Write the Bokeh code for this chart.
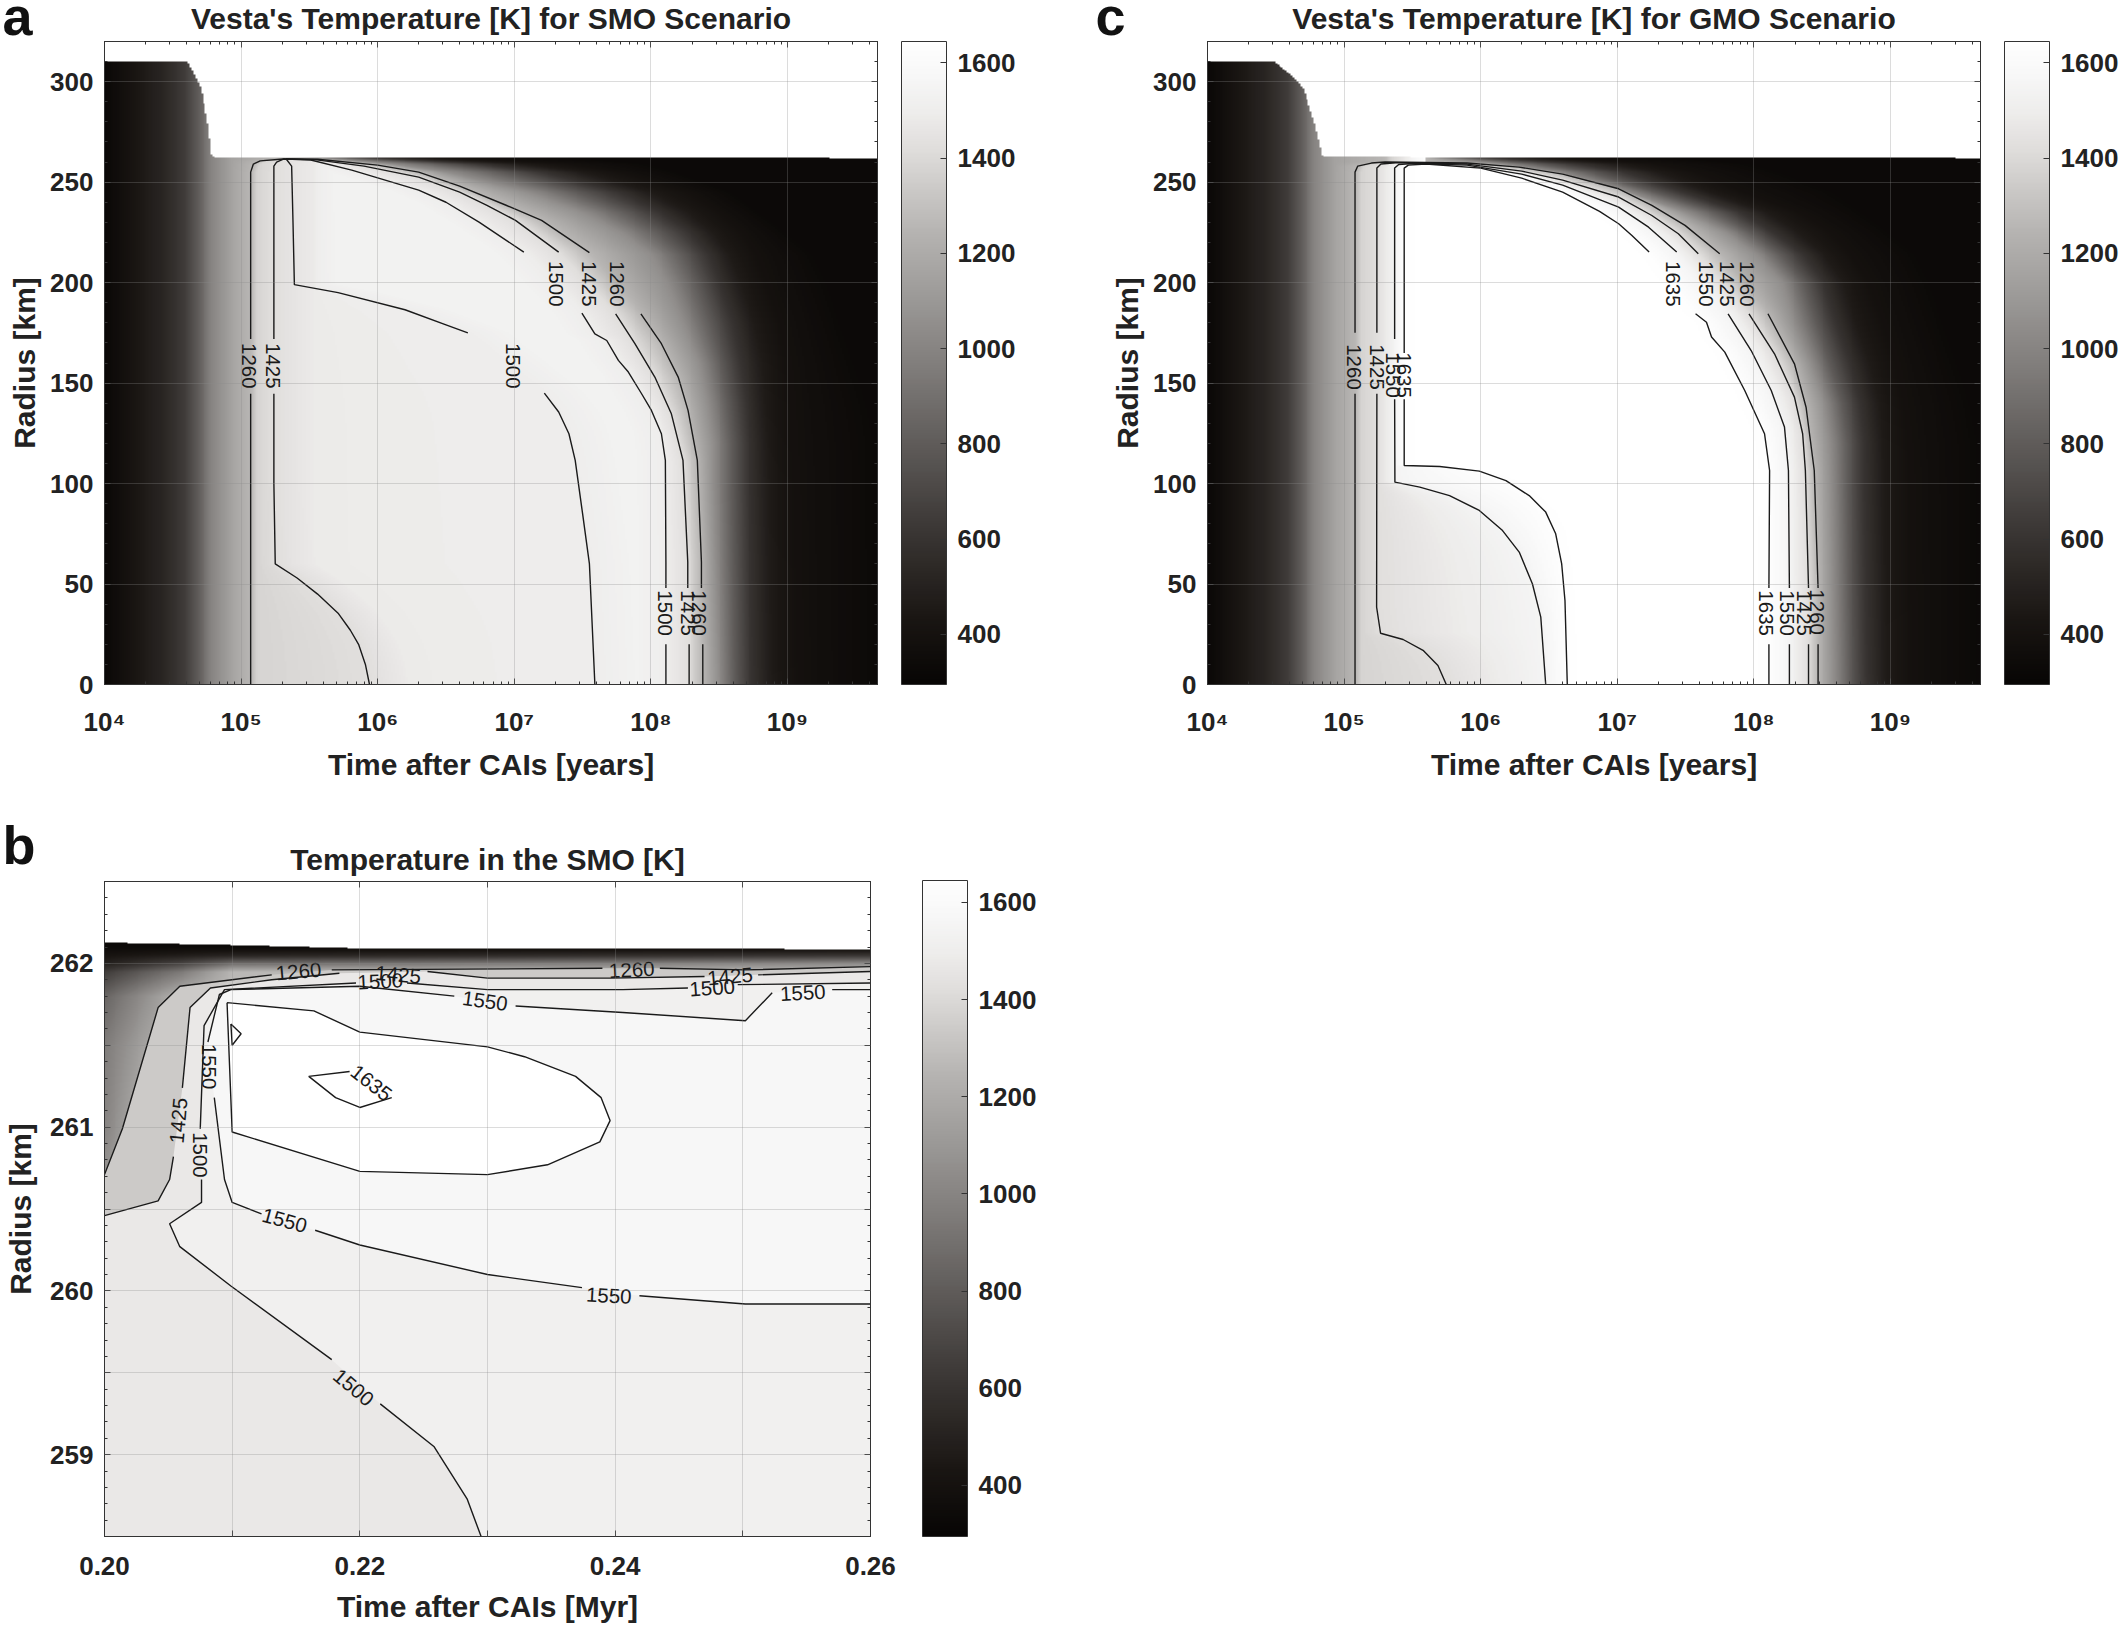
import numpy as np
from bokeh.plotting import figure
from bokeh.layouts import column, row
from bokeh.embed import file_html
from bokeh.resources import INLINE
from bokeh.core.properties import value
from bokeh.models import (LinearColorMapper, ColorBar, FixedTicker, LogAxis, LinearAxis,
                          LogTicker, Range1d, Title)

G = np.nan
FONT = "Liberation Sans"
TITLES = ["Vesta's Temperature [K] for SMO Scenario", "Temperature in the SMO [K]",
          "Vesta's Temperature [K] for GMO Scenario"]
XLABELS = ["Time after CAIs [years]", "Time after CAIs [Myr]"]
YLABEL = "Radius [km]"
LOG_TICK_LABELS = {10**4: "10⁴", 10**5: "10⁵", 10**6: "10⁶", 10**7: "10⁷", 10**8: "10⁸", 10**9: "10⁹"}
T_MIN, T_MAX = 295, 1645
CBAR_TICKS = [400, 600, 800, 1000, 1200, 1400, 1600]
LOGT_MAX = 9.659
R_TICKS = [0, 50, 100, 150, 200, 250, 300]

# Grey colour scale (fraction, r, g, b)
PAL_STOPS = [0.0, 0.1, 0.25, 0.5, 0.71, 0.84, 0.89, 0.95, 1.0]
PAL_R = [8, 26, 62, 130, 184, 226, 238, 248, 255]
PAL_G = [6, 22, 58, 127, 182, 224, 237, 248, 255]
PAL_B = [5, 19, 56, 125, 180, 222, 236, 248, 255]

# Early heating isotherms, the same at every radius (K, log10 years)
HEAT_T = [320, 420, 520, 640, 800, 1000, 1150]
HEAT_LOGT = [4.0, 4.2, 4.42, 4.58, 4.68, 4.78, 4.92]

# Late cooling isotherms: one row per radius
COOL_T = [1050, 795, 600, 460, 390, 330]
COOL_R = [0, 100, 120, 140, 160, 180, 200, 214, 225, 235, 245, 255, 259, 262]
A_COOL = [[8.50, 8.62, 8.74, 8.89, 9.08, 9.66], [8.46, 8.60, 8.72, 8.87, 9.05, 9.66],
          [8.46, 8.60, 8.72, 8.86, 9.03, 9.66], [8.42, 8.57, 8.70, 8.84, 9.02, 9.6],
          [8.36, 8.52, 8.66, 8.82, 9.00, 9.5], [8.24, 8.44, 8.60, 8.76, 8.95, 9.4],
          [8.12, 8.34, 8.50, 8.66, 8.85, 9.3], [8.00, 8.24, 8.42, 8.58, 8.78, 9.2],
          [7.78, 8.06, 8.28, 8.46, 8.68, 9.0], [7.5, 7.82, 8.06, 8.28, 8.52, 8.8],
          [7.1, 7.46, 7.76, 8.0, 8.3, 8.6], [6.5, 6.9, 7.2, 7.5, 7.8, 8.2],
          [6.1, 6.45, 6.75, 7.05, 7.4, 8.0], [5.6, 5.8, 6.0, 6.3, 6.6, 7.5]]
C_COOL = [[8.59, 8.71, 8.83, 8.98, 9.17, 9.66], [8.57, 8.69, 8.81, 8.96, 9.15, 9.66],
          [8.56, 8.69, 8.81, 8.95, 9.13, 9.66], [8.52, 8.65, 8.78, 8.92, 9.10, 9.6],
          [8.42, 8.56, 8.70, 8.85, 9.04, 9.5], [8.30, 8.46, 8.60, 8.75, 8.95, 9.4],
          [8.21, 8.37, 8.51, 8.66, 8.85, 9.3], [8.02, 8.20, 8.36, 8.52, 8.72, 9.2],
          [7.80, 7.98, 8.14, 8.33, 8.58, 9.0], [7.50, 7.72, 7.90, 8.10, 8.35, 8.8],
          [7.08, 7.28, 7.48, 7.68, 7.94, 8.6], [6.55, 6.8, 7.05, 7.3, 7.6, 8.2],
          [6.15, 6.42, 6.7, 7.0, 7.3, 8.0], [5.7, 5.9, 6.1, 6.4, 6.7, 7.5]]

# Outer surface of the body
A_SURF_LOGT = [4, 4.6, 4.65, 4.7, 4.75, 4.78, 4.8, 9.66]
A_SURF_R = [310, 310, 304, 297, 280, 264, 262.3, 262]
C_SURF_LOGT = [4, 4.48, 4.63, 4.70, 4.78, 4.84, 9.66]
C_SURF_R = [310, 310, 302, 296, 279, 262.6, 262]

# Contours of panel a (log10 years, km); G lifts the pen at a label
A_1260_T = [5.07, 5.07, G, 5.07, 5.07, 5.09, 5.14, 5.31, 5.56, 6.0, 6.3, 6.6, 6.94, 7.2, 7.55, G, 7.927, 8.077, 8.2, 8.272, 8.34, 8.37, 8.37, G, 8.38, 8.38]
A_1260_R = [0, 144.7, G, 172, 255, 259, 260.6, 261.5, 261.4, 258.5, 255, 248, 238.5, 231, 214.9, G, 184.5, 169.6, 153, 136.4, 111.5, 61, 48, G, 20, 0]
A_1425_T = [5.94, 5.91, 5.86, 5.80, 5.71, 5.56, 5.41, 5.25, 5.24, 5.24, G, 5.24, 5.24, 5.26, 5.31, 5.54, 5.9, 6.3, 6.6, 6.8, 7.009, 7.325, G, 7.742, 7.883, 8.029, 8.15, 8.235, 8.27, 8.27, G, 8.28, 8.28]
A_1425_R = [0, 10, 20, 27, 35.5, 45, 53, 60, 100, 144.7, G, 172, 258, 260, 261.5, 261.2, 258, 252.5, 245, 238.5, 231, 215.2, G, 184.5, 169.6, 153, 134.7, 111.5, 61, 48, G, 20, 0]
A_1500_T = [7.59, 7.57, 7.55, 7.5, 7.446, 7.4, 7.325, 7.22, G, 6.66, 6.5, 6.2, 5.71, 5.39, 5.38, 5.37, 5.33, 5.51, 5.81, 6.3, 6.5, 6.742, 7.07, G, 7.495, 7.59, 7.677, 7.762, 7.835, 7.932, 8.004, 8.077, 8.106, 8.11, 8.11, G, 8.11, 8.11]
A_1500_R = [0, 30, 60, 85, 111.5, 124.8, 135.6, 145, G, 175, 179, 186.5, 195, 199, 230, 258, 261.5, 261, 256, 246, 240, 230.1, 215.2, G, 184.8, 174.5, 171.2, 161.3, 155.5, 144.7, 136.4, 124.8, 111.5, 61, 48, G, 20, 0]
A_LABEL_TEXT = ["1260", "1425", "1500", "1500", "1425", "1260", "1500", "1425", "1260"]
A_LABEL_T = [5.06, 5.23, 6.99, 7.305, 7.55, 7.75, 8.10, 8.27, 8.355]
A_LABEL_R = [158.6, 158.6, 158.6, 199.4, 199.4, 199.4, 35.5, 35.5, 35.5]

# Contours of panel c
C_1260_T = [5.08, 5.08, G, 5.08, 5.08, 5.10, 5.20, 5.30, 5.9, 6.28, 6.6, 7.01, 7.253, 7.496, 7.75, G, 8.103, 8.297, 8.382, 8.442, 8.47, G, 8.47, 8.47]
C_1260_R = [0, 144.7, G, 175, 255, 258, 259.5, 260, 259.5, 257.5, 254, 246.7, 238.4, 228.5, 214.4, G, 184.5, 159.6, 138, 106.5, 48, G, 20, 0]
C_1425_T = [5.748, 5.687, 5.578, 5.432, 5.267, 5.238, 5.24, G, 5.24, 5.24, 5.27, 5.40, 5.9, 6.3, 6.6, 7.01, 7.253, 7.447, 7.593, G, 7.964, 8.151, 8.297, 8.357, 8.377, 8.40, G, 8.40, 8.40]
C_1425_R = [0, 9.5, 17, 22.4, 25.5, 38.5, 144.7, G, 175, 257, 259, 259.7, 259, 255.5, 251, 242.6, 233.4, 224.3, 214.4, G, 184.5, 164.6, 143, 124.8, 106.5, 48, G, 20, 0]
C_1550_T = [6.476, 6.44, 6.379, 6.282, 6.16, 5.99, 5.772, 5.554, 5.372, 5.37, G, 5.37, 5.37, 5.40, 5.5, 5.9, 6.3, 6.6, 7.01, 7.229, 7.435, G, 7.811, 7.98, 8.127, 8.224, 8.253, 8.26, G, 8.26, 8.26]
C_1550_R = [0, 33.5, 50, 65.9, 76.6, 86.6, 94, 98.2, 100.7, 142, G, 172, 257, 258.8, 259.3, 258.5, 254, 248.5, 237.6, 227.6, 215.2, G, 184.5, 166.2, 146.3, 128.1, 106.5, 48, G, 20, 0]
C_1635_T = [6.634, 6.617, 6.593, 6.549, 6.476, 6.355, 6.185, 5.99, 5.70, 5.44, 5.44, G, 5.44, 5.44, 5.47, 5.6, 6.0, 6.3, 6.6, 6.87, 7.01, 7.107, 7.233, G, 7.573, 7.653, 7.69, 7.787, 7.933, 8.078, 8.115, 8.11, G, 8.11, 8.11]
C_1635_R = [0, 41.8, 60, 75, 85.8, 94, 101.5, 106.2, 108.5, 109, 142, G, 165, 257, 258.5, 259, 257, 252, 245, 235.5, 229.3, 223.5, 215.2, G, 184.5, 180.3, 172.9, 165.4, 146.3, 124.8, 106.5, 48, G, 20, 0]
C_LABEL_TEXT = ["1260", "1425", "1550", "1635", "1635", "1550", "1425", "1260", "1635", "1550", "1425", "1260"]
C_LABEL_T = [5.07, 5.24, 5.36, 5.44, 7.41, 7.646, 7.80, 7.95, 8.09, 8.24, 8.37, 8.46]
C_LABEL_R = [158, 158, 154, 154, 199.4, 199.4, 199.4, 199.4, 35.5, 35.5, 35.5, 36]

# Panel b: contours (Myr, km)
B_1260_T = [0.2, 0.2014, 0.2042, 0.2059, 0.2131, G, 0.2178, 0.2390, G, 0.2435, 0.2502, 0.26]
B_1260_R = [260.71, 260.99, 261.73, 261.86, 261.93, G, 261.96, 261.97, G, 261.97, 261.96, 261.98]
B_1425_T = [0.2, 0.2042, 0.2051, 0.2054, G, 0.2061, 0.2067, 0.2083, 0.2131, 0.2184, G, 0.2253, 0.23, 0.2396, 0.2470, G, 0.2512, 0.26]
B_1425_R = [260.46, 260.55, 260.68, 260.82, G, 261.24, 261.73, 261.85, 261.90, 261.94, G, 261.95, 261.91, 261.91, 261.92, G, 261.93, 261.95]
B_1500_T = [0.2295, 0.2284, 0.2258, 0.2216, G, 0.2178, 0.2099, 0.2059, 0.2051, 0.2076, 0.2076, G, 0.2075, 0.2078, 0.2094, 0.2197, G, 0.2237, 0.23, 0.2406, 0.2457, G, 0.2496, 0.26]
B_1500_R = [258.5, 258.73, 259.05, 259.31, G, 259.58, 260.03, 260.27, 260.41, 260.54, 260.68, G, 260.99, 261.62, 261.84, 261.88, G, 261.88, 261.84, 261.84, 261.85, G, 261.87, 261.88]
B_1550_T = [0.26, 0.2502, 0.2419, G, 0.2374, 0.23, 0.22, 0.2165, G, 0.2123, 0.21, 0.2094, 0.2086, G, 0.2081, 0.2090, 0.2099, 0.22, 0.2274, G, 0.2322, 0.2406, 0.2502, 0.2523, G, 0.2570, 0.26]
B_1550_R = [259.92, 259.92, 259.97, G, 260.02, 260.10, 260.28, 260.37, G, 260.47, 260.54, 260.68, 261.18, G, 261.52, 261.81, 261.84, 261.86, 261.80, G, 261.74, 261.70, 261.65, 261.82, G, 261.84, 261.84]
B_LOOP_T = [0.2096, 0.2164, 0.22, 0.23, 0.2329, 0.2369, 0.2389, 0.2396, 0.2388, 0.2347, 0.23, 0.22, 0.21, 0.2096]
B_LOOP_R = [261.76, 261.71, 261.58, 261.49, 261.43, 261.31, 261.18, 261.04, 260.91, 260.77, 260.71, 260.73, 260.97, 261.76]
B_TRI_T = [0.2099, 0.2107, 0.21, 0.2099]
B_TRI_R = [261.63, 261.57, 261.50, 261.63]
B_1635_T = [0.2192, 0.216, 0.2181, 0.22, 0.2225]
B_1635_R = [261.34, 261.31, 261.18, 261.12, 261.18]
B_LABEL_TEXT = ["1260", "1425", "1500", "1550", "1260", "1425", "1500", "1550", "1550", "1550", "1500", "1635", "1550", "1500", "1425"]
B_LABEL_T = [0.2152, 0.2230, 0.2216, 0.2298, 0.2413, 0.2490, 0.2476, 0.2547, 0.2141, 0.2395, 0.2195, 0.2209, 0.2082, 0.2075, 0.2058]
B_LABEL_R = [261.95, 261.93, 261.89, 261.77, 261.96, 261.92, 261.85, 261.82, 260.43, 259.97, 259.41, 261.27, 261.37, 260.83, 261.04]
B_LABEL_ANGLE = [5, -5, 3, -8, 3, 5, 4, 3, -15, -3, -40, -38, -90, -90, 85]
# Filled levels in panel b
B_BAND_T = [1340, 1475, 1525, 1575, 1645]
# Gradient behind panel b: T at each radius (rows) and time (columns)
B_GRID_T = [0.20, 0.203, 0.206, 0.21, 0.26]
B_GRID_R = [258.5, 260.5, 261.0, 261.5, 261.8, 261.95, 262.0, 262.05, 262.1, 262.15]
B_GRID = [[1400, 1400, 1400, 1400, 1400], [1130, 1300, 1400, 1400, 1400], [1000, 1250, 1400, 1400, 1400],
          [960, 1150, 1300, 1400, 1400], [850, 1050, 1260, 1300, 1300], [650, 800, 950, 1260, 1260],
          [500, 600, 700, 900, 1050], [420, 450, 480, 520, 620], [340, 340, 340, 340, 340], [310, 310, 310, 310, 310]]
B_SURF_T = [0.2, 0.21, 0.22, 0.26]
B_SURF_R = [262.13, 262.115, 262.095, 262.09]
B_R_TICKS = {259: "259", 260: "260", 261: "261", 262: "262"}
B_T_TICKS = {0.20: "0.20", 0.22: "0.22", 0.24: "0.24", 0.26: "0.26"}

# ---------------------------------------------------------------- colours
frac = np.linspace(0, 1, 256)
PALETTE = ["#%02x%02x%02x" % (int(r), int(g), int(b)) for r, g, b in zip(
    np.interp(frac, PAL_STOPS, PAL_R), np.interp(frac, PAL_STOPS, PAL_G), np.interp(frac, PAL_STOPS, PAL_B))]
mapper = LinearColorMapper(palette=PALETTE, low=T_MIN, high=T_MAX, nan_color="#ffffff")


def t_colour(t):
    return PALETTE[int(round((t - T_MIN) / (T_MAX - T_MIN) * 255))]


# ---------------------------------------------------------------- fields
def split_contour(t, r):
    t, r = np.array(t), np.array(r)
    keep = ~np.isnan(t)
    t, r = t[keep], r[keep]
    top = int(np.argmax(r))
    return (r[:top + 1], t[:top + 1]), (r[top:][::-1], t[top:][::-1])


def field(contours, levels, plateau, up_gain, down_gain, cool_table, surf_t, surf_r, bumps, nx=400, ny=643):
    lt = np.linspace(4, LOGT_MAX, nx)
    rr = (np.arange(ny) + 0.5) * 320 / ny
    parts = [split_contour(a, b) for a, b in contours]
    cool = np.array(cool_table)
    out = np.full((ny, nx), np.nan, dtype=np.float32)
    surface = np.interp(lt, surf_t, surf_r)
    for j, r in enumerate(rr):
        up = [np.interp(r, p[0][0], p[0][1]) for p in parts]
        dn = [np.interp(r, p[1][0], p[1][1]) for p in parts]
        hx = list(HEAT_LOGT)
        hy = list(HEAT_T)
        for i, (u, lev) in enumerate(zip(up, levels)):
            hx.append(u)
            hy.append(lev)
            if i in bumps:
                hx.append(u + bumps[i][0])
                hy.append(bumps[i][1])
        hx.append(up[-1] + up_gain)
        hy.append(plateau)
        heat = np.interp(lt, np.maximum.accumulate(hx), hy)
        extra = [np.interp(r, COOL_R, cool[:, i]) for i in range(cool.shape[1])]
        cx = np.maximum.accumulate([dn[-1] - down_gain] + dn[::-1] + extra)
        cy = [plateau] + levels[::-1] + COOL_T
        cl = np.interp(lt, cx, cy)
        row_t = np.minimum(heat, cl)
        row_t[r > surface] = np.nan
        out[j] = row_t
    return out


def style_axis(ax):
    ax.major_tick_in = 6
    ax.major_tick_out = 0
    ax.minor_tick_in = 3
    ax.minor_tick_out = 0
    ax.axis_line_color = "#333333"
    ax.major_tick_line_color = "#333333"
    ax.minor_tick_line_color = "#333333"
    ax.major_label_text_font = FONT
    ax.major_label_text_font_style = "bold"
    ax.major_label_text_font_size = "26px"
    ax.major_label_text_color = "#222222"
    ax.axis_label_text_font = FONT
    ax.axis_label_text_font_style = "bold"
    ax.axis_label_text_font_size = "30px"
    ax.axis_label_text_color = "#222222"


def add_frame(p, top_axis, right_axis):
    style_axis(top_axis)
    style_axis(right_axis)
    for ax in (top_axis, right_axis):
        ax.major_label_text_font_size = "1px"
        ax.major_label_text_color = None
        ax.major_label_standoff = 0
        p.add_layout(ax, "above" if ax is top_axis else "right")


def base_figure(width, height, border_left, border_top, frame_w, frame_h, cbar_gap, **kw):
    p = figure(width=width, height=height, output_backend="svg", toolbar_location=None,
               min_border_left=border_left, min_border_top=border_top, min_border_bottom=height - border_top - frame_h,
               min_border_right=width - border_left - frame_w, **kw)
    p.grid.level = "annotation"
    p.grid.grid_line_color = "#8c8c8c"
    p.grid.grid_line_alpha = 0.3
    p.outline_line_color = "#333333"
    p.background_fill_color = "white"
    cb = ColorBar(color_mapper=mapper, width=45, height=frame_h, location=(frame_w + cbar_gap, 0), padding=0, margin=0,
                  ticker=FixedTicker(ticks=CBAR_TICKS), major_tick_in=6, major_tick_line_color="#333333",
                  bar_line_color="#333333", major_label_text_font=FONT, major_label_text_font_style="bold",
                  major_label_text_font_size="26px", major_label_text_color="#222222", label_standoff=11,
                  minor_tick_line_color=None)
    p.add_layout(cb)
    return p


def add_titles(p, title, title_gap, letter, letter_offset, letter_gap):
    p.add_layout(Title(text=title, align="center", standoff=title_gap, text_font=FONT, text_font_style="bold",
                       text_font_size="30px", text_color="#222222"), "above")
    p.add_layout(Title(text=letter, align="left", offset=letter_offset, standoff=letter_gap, text_font=FONT,
                       text_font_style="bold", text_font_size="54px", text_color="#111111"), "above")


def draw_lines(p, contours, scale_log=True):
    for t, r in contours:
        x = 10 ** np.array(t, dtype=float) if scale_log else np.array(t, dtype=float)
        p.line(x, np.array(r, dtype=float), line_color="#1a1a1a", line_width=1.4)


def draw_labels(p, xs, ys, texts, angles):
    p.text(xs, ys, text=texts, angle=angles, angle_units="deg", text_font=value(FONT), text_font_size="20.5px",
           text_align="center", text_baseline="middle", text_color="#1a1a1a")


def log_panel(title, letter, letter_offset, contours, levels, plateau, up_gain, down_gain, cool, st, sr, bumps, lt, lr, ltext, width, border_left):
    x0, x1 = 1e4, 10 ** LOGT_MAX
    p = base_figure(width, 830, border_left, 62, 773, 643, 24, x_axis_type="log",
                    x_range=Range1d(x0, x1), y_range=Range1d(0, 320))
    z = field(contours, levels, plateau, up_gain, down_gain, cool, st, sr, bumps)
    p.image(image=[z], x=x0, y=0, dw=x1 - x0, dh=320, color_mapper=mapper, level="image")
    draw_lines(p, contours)
    draw_labels(p, 10 ** np.array(lt), lr, ltext, [-90] * len(ltext))
    style_axis(p.below[0])
    style_axis(p.left[0])
    p.xaxis.axis_label = XLABELS[0]
    p.yaxis.axis_label = YLABEL
    p.below[0].ticker = LogTicker(num_minor_ticks=10)
    p.below[0].major_label_overrides = LOG_TICK_LABELS
    p.below[0].major_label_standoff = 22
    p.below[0].axis_label_standoff = 8
    p.left[0].ticker = FixedTicker(ticks=R_TICKS, minor_ticks=list(range(0, 321, 10)))
    p.left[0].major_label_standoff = 11
    p.left[0].axis_label_standoff = 6
    p.ygrid.ticker = FixedTicker(ticks=R_TICKS)
    add_frame(p, LogAxis(ticker=LogTicker(num_minor_ticks=10)),
              LinearAxis(ticker=FixedTicker(ticks=R_TICKS, minor_ticks=list(range(0, 321, 10)))))
    add_titles(p, title, 13, letter, letter_offset, -104)
    return p


def panel_b():
    x0, x1, y0, y1 = 0.20, 0.26, 258.5, 262.5
    p = base_figure(1070, 811, 104, 67, 766, 656, 52,
                    x_range=Range1d(x0, x1), y_range=Range1d(y0, y1))
    # gradient behind the filled levels
    xs = np.linspace(x0, x1, 400)
    ys = np.linspace(y0, y1, 656)
    table = np.array(B_GRID, dtype=float)
    by_col = np.array([np.interp(ys, B_GRID_R, table[:, i]) for i in range(table.shape[1])]).T
    z = np.array([np.interp(xs, B_GRID_T, line) for line in by_col], dtype=np.float32)
    surface = np.interp(xs, B_SURF_T, B_SURF_R)
    z[ys[:, None] > surface[None, :]] = np.nan
    p.image(image=[z], x=x0, y=y0, dw=x1 - x0, dh=y1 - y0, color_mapper=mapper, level="image")

    def clean(t, r):
        t, r = np.array(t), np.array(r)
        k = ~np.isnan(t)
        return list(t[k]), list(r[k])

    a_t, a_r = clean(B_1260_T, B_1260_R)
    p.patch(a_t + [x1, x0], a_r + [y0, y0], fill_color=t_colour(B_BAND_T[0]), line_color=None)
    a_t, a_r = clean(B_1425_T, B_1425_R)
    p.patch(a_t + [x1, x0], a_r + [y0, y0], fill_color=t_colour(B_BAND_T[1]), line_color=None)
    a_t, a_r = clean(B_1500_T, B_1500_R)
    p.patch(a_t + [x1], a_r + [y0], fill_color=t_colour(B_BAND_T[2]), line_color=None)
    a_t, a_r = clean(B_1550_T, B_1550_R)
    p.patch(a_t, a_r, fill_color=t_colour(B_BAND_T[3]), line_color=None)
    p.patch(B_LOOP_T, B_LOOP_R, fill_color=t_colour(B_BAND_T[4]), line_color=None)

    draw_lines(p, [(B_1260_T, B_1260_R), (B_1425_T, B_1425_R), (B_1500_T, B_1500_R), (B_1550_T, B_1550_R),
                   (B_LOOP_T, B_LOOP_R), (B_TRI_T, B_TRI_R), (B_1635_T, B_1635_R)], scale_log=False)
    draw_labels(p, B_LABEL_T, B_LABEL_R, B_LABEL_TEXT, B_LABEL_ANGLE)

    x_ticks = [0.20, 0.21, 0.22, 0.23, 0.24, 0.25, 0.26]
    y_ticks = [259, 259.5, 260, 260.5, 261, 261.5, 262]
    y_minor = [round(258.5 + i * 0.1, 1) for i in range(41)]
    style_axis(p.below[0])
    style_axis(p.left[0])
    p.xaxis.axis_label = XLABELS[1]
    p.yaxis.axis_label = YLABEL
    p.below[0].ticker = FixedTicker(ticks=x_ticks)
    p.below[0].major_label_overrides = {t: B_T_TICKS.get(t, "") for t in x_ticks}
    p.left[0].ticker = FixedTicker(ticks=y_ticks, minor_ticks=y_minor)
    p.left[0].major_label_overrides = {t: B_R_TICKS.get(t, "") for t in y_ticks}
    p.below[0].major_label_standoff = 20
    p.below[0].axis_label_standoff = 12
    p.left[0].major_label_standoff = 11
    p.left[0].axis_label_standoff = 10
    p.xgrid.ticker = FixedTicker(ticks=x_ticks)
    p.ygrid.ticker = FixedTicker(ticks=y_ticks)
    add_frame(p, LinearAxis(ticker=FixedTicker(ticks=x_ticks)),
              LinearAxis(ticker=FixedTicker(ticks=y_ticks, minor_ticks=y_minor)))
    add_titles(p, TITLES[1], 12, "b", -102, -80)
    return p


A_CONTOURS = [(A_1260_T, A_1260_R), (A_1425_T, A_1425_R), (A_1500_T, A_1500_R)]
C_CONTOURS = [(C_1260_T, C_1260_R), (C_1425_T, C_1425_R), (C_1550_T, C_1550_R), (C_1635_T, C_1635_R)]

pa = log_panel(TITLES[0], "a", -102, A_CONTOURS, [1260, 1425, 1500], 1530, 0.3, 0.2, A_COOL,
               A_SURF_LOGT, A_SURF_R, {0: (0.04, 1380), 1: (0.3, 1485)}, A_LABEL_T, A_LABEL_R, A_LABEL_TEXT, 1070, 104)
pc = log_panel(TITLES[2], "c", -112, C_CONTOURS, [1260, 1425, 1550, 1635], 1645, 0.15, 0.15, C_COOL,
               C_SURF_LOGT, C_SURF_R, {0: (0.04, 1380)}, C_LABEL_T, C_LABEL_R, C_LABEL_TEXT, 1050, 137)
pb = panel_b()

top_row = row(pa, pc, margin=(-21, 0, 0, 0))
pb.margin = (5, 0, 0, 0)
page = column(top_row, pb)
open("out.html", "w").write(file_html(page, INLINE))
